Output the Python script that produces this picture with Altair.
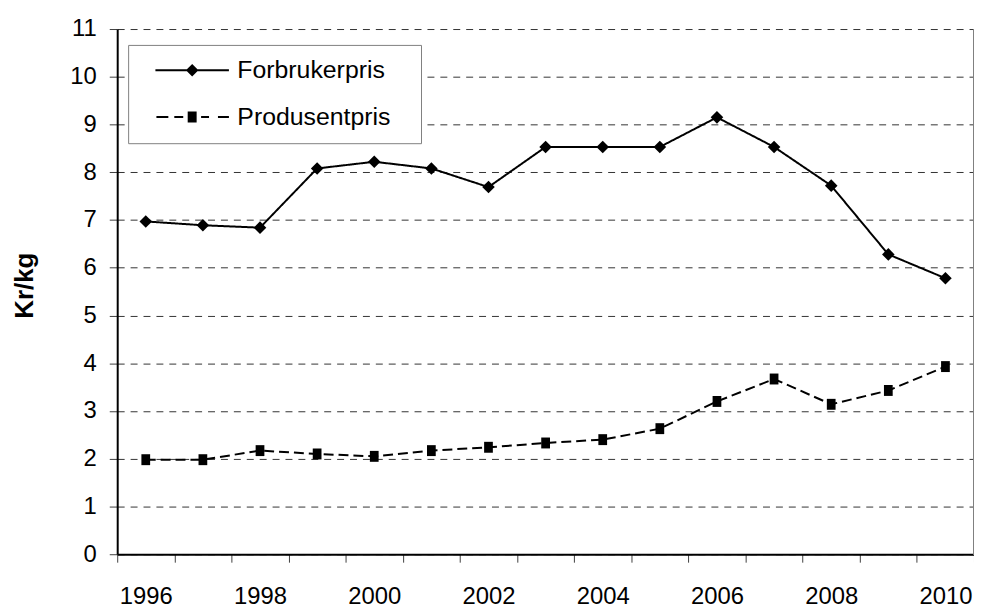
import altair as alt
import pandas as pd

years = ["1996", "1997", "1998", "1999", "2000", "2001", "2002", "2003",
         "2004", "2005", "2006", "2007", "2008", "2009", "2010"]
forbrukerpris = [6.97, 6.89, 6.84, 8.08, 8.22, 8.08, 7.69, 8.53,
                 8.53, 8.53, 9.15, 8.53, 7.72, 6.28, 5.78]
produsentpris = [1.98, 1.98, 2.17, 2.10, 2.05, 2.17, 2.24, 2.33,
                 2.40, 2.63, 3.20, 3.67, 3.14, 3.43, 3.93]
series_names = ["Forbrukerpris", "Produsentpris"]
y_ticks = [0, 1, 2, 3, 4, 5, 6, 7, 8, 9, 10, 11]

rows = []
for i, yr in enumerate(years):
    rows.append({"year": yr, "series": series_names[0], "value": forbrukerpris[i]})
    rows.append({"year": yr, "series": series_names[1], "value": produsentpris[i]})
df = pd.DataFrame(rows)

FONT = "Liberation Sans"
W, H = 863, 529

x_enc = alt.X(
    "year:O", title=None, bandPosition=0.5,
    scale=alt.Scale(type="band", domain=years, paddingInner=0, paddingOuter=0),
    axis=alt.Axis(
        labelAngle=0, labelOverlap=False,
        labelExpr="toNumber(datum.value) % 2 == 0 ? datum.value : ''",
        tickBand="extent", tickSize=8, tickColor="#404040", tickWidth=1,
        domainColor="black", domainWidth=2, grid=False,
        labelFont=FONT, labelFontSize=24, labelColor="black", labelPadding=23,
    ),
)
y_enc = alt.Y(
    "value:Q", title="Kr/kg",
    scale=alt.Scale(domain=[0, 11], nice=False, zero=True),
    axis=alt.Axis(
        values=y_ticks, grid=True, gridDash=[7, 6], gridColor="#333333", gridWidth=1,
        tickSize=8, tickColor="#404040", tickWidth=1,
        domainColor="black", domainWidth=2,
        labelFont=FONT, labelFontSize=24, labelColor="black", labelPadding=13,
        titleFont=FONT, titleFontSize=26, titleFontWeight="bold", titleColor="black",
        titleX=-85, titleY=258, titleBaseline="alphabetic", titleAngle=270,
    ),
)

dash_scale = alt.Scale(domain=series_names, range=[[1, 0], [10, 5]])

lines = alt.Chart(df).mark_line(color="black", strokeWidth=2).encode(
    x=x_enc, y=y_enc,
    strokeDash=alt.StrokeDash("series:N", scale=dash_scale, legend=None),
    detail="series:N",
)

points = alt.Chart(df).mark_point(filled=True, color="black", opacity=1).encode(
    x=x_enc, y=y_enc,
    shape=alt.Shape("series:N", scale=alt.Scale(
        domain=series_names,
        range=["diamond", "M-0.8,-1L0.8,-1L0.8,1L-0.8,1Z"]), legend=None),
    size=alt.Size("series:N", scale=alt.Scale(domain=series_names, range=[160, 121]), legend=None),
)

# legend glyphs: line (solid or dashed) with marker, as filled paths
diamond_sym = ("M-6.17,-0.17L6.17,-0.17L6.17,0.17L-6.17,0.17Z "
               "M-1.05,0L0,-1.05L1.05,0L0,1.05Z")
square_sym = ("M-6.0,-0.17L-4.0,-0.17L-4.0,0.17L-6.0,0.17Z "
              "M-3.0,-0.17L-1.5,-0.17L-1.5,0.17L-3.0,0.17Z "
              "M-0.75,-0.92L0.75,-0.92L0.75,0.92L-0.75,0.92Z "
              "M1.5,-0.17L2.83,-0.17L2.83,0.17L1.5,0.17Z "
              "M4.33,-0.17L6.17,-0.17L6.17,0.17L4.33,0.17Z")

legend_props = dict(
    title="\u00a0", titleOrient="right", titlePadding=18, titleFontSize=25,
    titleFont=FONT, titleColor="white",
    orient="none", legendX=11, legendY=16, direction="vertical",
    strokeColor="#808080", fillColor="white", padding=13,
    labelFont=FONT, labelFontSize=25, labelColor="black", labelOffset=33,
    symbolSize=144, symbolStrokeWidth=0, symbolFillColor="black",
    symbolStrokeColor="black", symbolOpacity=1, symbolOffset=39, rowPadding=21,
)

legend_layer = alt.Chart(df).mark_point(
    filled=True, color="black", opacity=1, clip=True, size=144, strokeWidth=0
).encode(
    x=x_enc,
    y=alt.value(-2000),
    shape=alt.Shape("series:N", scale=alt.Scale(domain=series_names, range=[diamond_sym, square_sym]),
                    legend=alt.Legend(**legend_props)),
)

border = alt.Chart(df).mark_rule(color="#808080", strokeWidth=1).encode(
    x=alt.X(datum="2010", bandPosition=1, scale=alt.Scale(type="band", domain=years, paddingInner=0, paddingOuter=0)),
    y=alt.Y(datum=0),
    y2=alt.Y2(datum=11),
)

chart = alt.layer(lines, points, border, legend_layer).resolve_scale(
    shape="independent", strokeDash="independent", size="independent"
).properties(
    width=W, height=H,
    padding={"left": 110, "top": 19, "right": 0, "bottom": 55},
    autosize=alt.AutoSizeParams(type="none"),
    background="white",
).configure_view(strokeWidth=0)

chart.save("out.html", embed_options={"renderer": "svg", "actions": False})
